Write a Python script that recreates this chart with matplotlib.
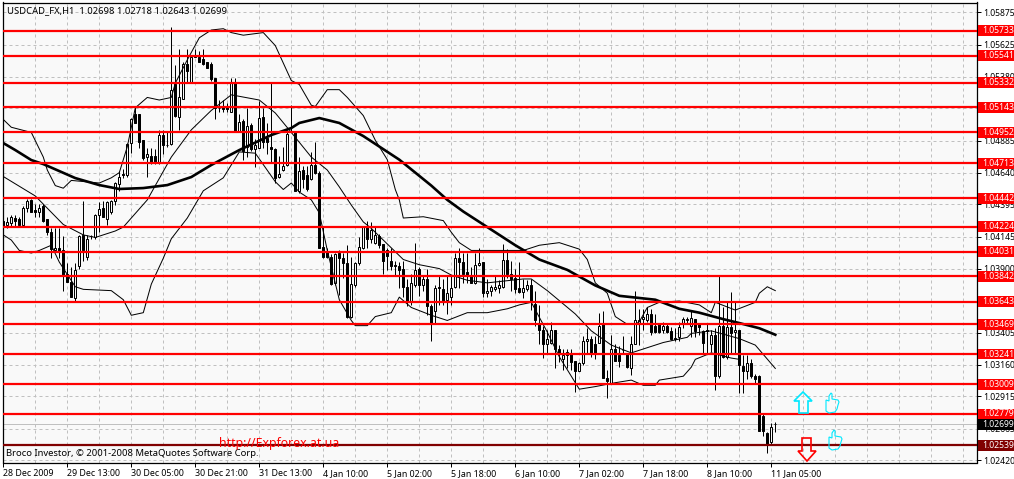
import matplotlib
matplotlib.use("Agg")
import matplotlib.pyplot as plt
from matplotlib.patches import Polygon, Rectangle
from matplotlib.transforms import Affine2D

W, H = 1014, 479

opens = [
 1.0427,1.0424,1.0425,1.0429,1.0428,1.0424,1.0437,1.0443,1.0435,1.0434,
 1.0438,1.0428,1.0418,1.0404,1.0406,1.0404,1.0386,1.0380,1.0367,1.0392,
 1.0416,1.0399,1.0415,1.0414,1.0431,1.0437,1.0428,1.0434,1.0442,1.0455,
 1.0463,1.0462,1.0487,1.0509,1.0509,1.0489,1.0476,1.0477,1.0477,1.0472,
 1.0493,1.0485,1.0486,1.0532,1.0507,1.0521,1.0548,1.0534,1.0554,1.0553,
 1.0552,1.0549,1.0548,1.0537,1.0514,1.0515,1.0515,1.0511,1.0534,1.0496,
 1.0504,1.0484,1.0501,1.0482,1.0483,1.0507,1.0491,1.0484,1.0482,1.0461,
 1.0466,1.0470,1.0495,1.0495,1.0450,1.0466,1.0462,1.0459,1.0470,1.0464,
 1.0407,1.0403,1.0399,1.0379,1.0402,1.0398,1.0394,1.0353,1.0377,1.0394,
 1.0406,1.0422,1.0413,1.0410,1.0415,1.0409,1.0404,1.0396,1.0393,1.0392,
 1.0390,1.0376,1.0364,1.0377,1.0390,1.0377,1.0382,1.0361,1.0357,1.0376,
 1.0374,1.0366,1.0368,1.0376,1.0398,1.0395,1.0387,1.0384,1.0379,1.0393,
 1.0395,1.0371,1.0373,1.0374,1.0375,1.0376,1.0397,1.0386,1.0383,1.0375,
 1.0372,1.0374,1.0377,1.0363,1.0347,1.0343,1.0332,1.0333,1.0343,1.0328,
 1.0320,1.0326,1.0324,1.0319,1.0311,1.0317,1.0334,1.0336,1.0332,1.0333,
 1.0347,1.0306,1.0302,1.0328,1.0323,1.0327,1.0325,1.0313,1.0332,1.0348,
 1.0351,1.0350,1.0355,1.0346,1.0347,1.0343,1.0346,1.0342,1.0336,1.0337,
 1.0348,1.0350,1.0346,1.0351,1.0347,1.0342,1.0343,1.0332,1.0339,1.0307,
 1.0346,1.0322,1.0345,1.0341,1.0343,1.0315,1.0311,1.0317,1.0307,1.0307,
 1.0276,1.0263,1.0256,1.02698]
closes = [
 1.0422,1.0426,1.0430,1.0427,1.0424,1.0437,1.0442,1.0434,1.0434,1.0437,
 1.0427,1.0418,1.0405,1.0406,1.0403,1.0385,1.0380,1.0368,1.0389,1.0415,
 1.0404,1.0413,1.0415,1.0431,1.0436,1.0430,1.0441,1.0442,1.0456,1.0461,
 1.0462,1.0486,1.0505,1.0502,1.0488,1.0475,1.0478,1.0472,1.0472,1.0493,
 1.0485,1.0485,1.0528,1.0508,1.0522,1.0548,1.0542,1.0553,1.0553,1.0549,
 1.0548,1.0545,1.0536,1.0514,1.0514,1.0513,1.0513,1.0534,1.0496,1.0503,
 1.0481,1.0500,1.0482,1.0485,1.0506,1.0488,1.0488,1.0482,1.0460,1.0463,
 1.0469,1.0494,1.0495,1.0450,1.0465,1.0459,1.0451,1.0470,1.0464,1.0406,
 1.0399,1.0399,1.0378,1.0401,1.0398,1.0394,1.0353,1.0378,1.0394,1.0407,
 1.0422,1.0413,1.0420,1.0416,1.0408,1.0396,1.0400,1.0392,1.0392,1.0389,
 1.0376,1.0364,1.0379,1.0389,1.0377,1.0382,1.0361,1.0347,1.0375,1.0375,
 1.0364,1.0371,1.0375,1.0398,1.0395,1.0386,1.0384,1.0379,1.0393,1.0394,
 1.0371,1.0373,1.0376,1.0376,1.0377,1.0397,1.0386,1.0382,1.0374,1.0372,
 1.0375,1.0377,1.0365,1.0350,1.0343,1.0332,1.0336,1.0343,1.0328,1.0324,
 1.0323,1.0323,1.0318,1.0311,1.0317,1.0334,1.0336,1.0324,1.0324,1.0346,
 1.0306,1.0303,1.0328,1.0319,1.0319,1.0327,1.0314,1.0332,1.0350,1.0350,
 1.0353,1.0355,1.0341,1.0341,1.0341,1.0346,1.0341,1.0336,1.0336,1.0345,
 1.0351,1.0351,1.0352,1.0342,1.0345,1.0333,1.0342,1.0339,1.0307,1.0346,
 1.0322,1.0345,1.0340,1.0343,1.0316,1.0311,1.0317,1.0307,1.0305,1.0265,
 1.0265,1.0255,1.0268,1.02699]
highs = [
 1.0431,1.0430,1.0431,1.0431,1.0430,1.0438,1.0444,1.0444,1.0440,1.0440,
 1.0440,1.0428,1.0421,1.0421,1.0421,1.0415,1.0394,1.0391,1.0394,1.0416,
 1.0442,1.0416,1.0416,1.0432,1.0441,1.0442,1.0442,1.0443,1.0457,1.0465,
 1.0467,1.0487,1.0506,1.0515,1.0509,1.0489,1.0483,1.0483,1.0482,1.0497,
 1.0497,1.0495,1.0576,1.0547,1.0559,1.0549,1.0559,1.0554,1.0559,1.0558,
 1.0559,1.0549,1.0549,1.0537,1.0520,1.0520,1.0518,1.0537,1.0537,1.0509,
 1.0505,1.0514,1.0502,1.0490,1.0519,1.0514,1.0502,1.0533,1.0483,1.0477,
 1.0484,1.0498,1.0516,1.0495,1.0476,1.0469,1.0469,1.0480,1.0488,1.0465,
 1.0422,1.0406,1.0401,1.0402,1.0404,1.0402,1.0408,1.0399,1.0395,1.0414,
 1.0423,1.0427,1.0426,1.0422,1.0417,1.0409,1.0406,1.0406,1.0396,1.0395,
 1.0396,1.0382,1.0386,1.0410,1.0391,1.0384,1.0390,1.0363,1.0377,1.0384,
 1.0382,1.0384,1.0384,1.0402,1.0406,1.0402,1.0402,1.0391,1.0402,1.0406,
 1.0395,1.0382,1.0377,1.0384,1.0381,1.0409,1.0405,1.0396,1.0390,1.0395,
 1.0382,1.0381,1.0382,1.0373,1.0362,1.0346,1.0343,1.0349,1.0343,1.0331,
 1.0328,1.0328,1.0328,1.0319,1.0318,1.0338,1.0344,1.0338,1.0338,1.0356,
 1.0357,1.0312,1.0339,1.0332,1.0330,1.0338,1.0325,1.0338,1.0373,1.0359,
 1.0359,1.0360,1.0359,1.0355,1.0348,1.0349,1.0347,1.0345,1.0344,1.0349,
 1.0353,1.0353,1.0358,1.0351,1.0348,1.0343,1.0348,1.0343,1.0344,1.0384,
 1.0360,1.0364,1.0372,1.0364,1.0343,1.0323,1.0323,1.0320,1.0309,1.0308,
 1.0279,1.0264,1.0271,1.02718]
lows = [
 1.0418,1.0421,1.0422,1.0423,1.0422,1.0424,1.0434,1.0434,1.0430,1.0430,
 1.0426,1.0416,1.0398,1.0404,1.0398,1.0373,1.0380,1.0368,1.0365,1.0390,
 1.0396,1.0397,1.0413,1.0413,1.0418,1.0430,1.0424,1.0432,1.0439,1.0450,
 1.0460,1.0461,1.0479,1.0502,1.0483,1.0474,1.0461,1.0471,1.0471,1.0471,
 1.0478,1.0484,1.0485,1.0507,1.0497,1.0521,1.0533,1.0533,1.0553,1.0549,
 1.0547,1.0545,1.0535,1.0505,1.0511,1.0511,1.0511,1.0511,1.0495,1.0495,
 1.0474,1.0476,1.0481,1.0468,1.0483,1.0483,1.0478,1.0472,1.0456,1.0460,
 1.0465,1.0469,1.0495,1.0450,1.0448,1.0452,1.0450,1.0458,1.0463,1.0406,
 1.0398,1.0398,1.0377,1.0377,1.0370,1.0383,1.0352,1.0352,1.0376,1.0393,
 1.0405,1.0406,1.0410,1.0409,1.0406,1.0386,1.0389,1.0389,1.0384,1.0375,
 1.0368,1.0361,1.0362,1.0376,1.0369,1.0373,1.0354,1.0334,1.0347,1.0362,
 1.0362,1.0355,1.0362,1.0375,1.0375,1.0379,1.0379,1.0379,1.0378,1.0392,
 1.0368,1.0368,1.0369,1.0373,1.0371,1.0375,1.0383,1.0373,1.0371,1.0371,
 1.0367,1.0373,1.0358,1.0346,1.0332,1.0321,1.0324,1.0332,1.0313,1.0318,
 1.0312,1.0313,1.0312,1.0295,1.0311,1.0316,1.0324,1.0322,1.0320,1.0333,
 1.0306,1.0290,1.0301,1.0319,1.0314,1.0325,1.0313,1.0308,1.0332,1.0331,
 1.0343,1.0349,1.0339,1.0340,1.0340,1.0340,1.0340,1.0335,1.0334,1.0334,
 1.0344,1.0347,1.0337,1.0337,1.0339,1.0324,1.0324,1.0326,1.0296,1.0306,
 1.0321,1.0320,1.0325,1.0325,1.0294,1.0294,1.0305,1.0306,1.0301,1.0265,
 1.0261,1.0248,1.0255,1.02643]
assert len(opens) == len(closes) == len(highs) == len(lows) == 194

upper_bars = [0,2,7,10,11,13,15,17,24,27,29,31,32,33,36,39,42,43,46,49,52,55,57,60,65,68,72,74,77,78,81,84,86,90,93,96,98,99,100,105,110,112,114,117,125,130,134,139,144,146,148,151,153,156,158,159,161,164,169,174,177,178,183,188,189,191,193]
upper_vals = [1.0505,1.0499,1.0495,1.0476,1.0466,1.0454,1.0452,1.0458,1.0456,1.0460,1.0464,1.0484,1.0499,1.0514,1.0522,1.0520,1.0522,1.0533,1.0551,1.0568,1.0574,1.0575,1.0572,1.0570,1.0572,1.0562,1.0535,1.0532,1.0516,1.0515,1.0528,1.0528,1.0522,1.0508,1.0489,1.0474,1.0451,1.0443,1.0429,1.0430,1.0427,1.0418,1.0410,1.0404,1.0404,1.0404,1.0408,1.0410,1.0405,1.0397,1.0379,1.0371,1.0353,1.0347,1.0347,1.0349,1.0360,1.0364,1.0365,1.0362,1.0356,1.0364,1.0358,1.0364,1.0371,1.0376,1.0373]

middle_bars = [0,8,15,20,23,28,30,36,42,47,52,57,64,68,72,77,81,84,87,90,92,97,100,104,109,112,116,121,130,132,136,143,147,152,157,159,165,171,172,177,184,188,193]
middle_vals = [1.0461,1.0446,1.0424,1.0416,1.0414,1.0419,1.0422,1.0443,1.0476,1.0497,1.0512,1.0524,1.0520,1.0510,1.0495,1.0476,1.0466,1.0453,1.0439,1.0426,1.0421,1.0406,1.0397,1.0393,1.0390,1.0385,1.0381,1.0379,1.0382,1.0382,1.0373,1.0355,1.0342,1.0331,1.0325,1.0327,1.0333,1.0337,1.0340,1.0342,1.0336,1.0331,1.0313]

lower_bars = [0,2,4,7,9,12,14,18,20,27,30,32,35,37,40,42,46,50,55,59,63,68,70,72,74,77,79,81,84,87,88,91,93,97,99,102,107,111,116,121,126,129,132,136,139,143,144,148,153,157,160,163,164,170,172,173,177,182,184]
lower_vals = [1.0416,1.0412,1.0404,1.0402,1.0404,1.0408,1.0395,1.0376,1.0374,1.0373,1.0366,1.0354,1.0356,1.0378,1.0398,1.0413,1.0429,1.0450,1.0460,1.0480,1.0479,1.0457,1.0451,1.0456,1.0449,1.0443,1.0433,1.0404,1.0366,1.0350,1.0346,1.0346,1.0353,1.0356,1.0368,1.0360,1.0354,1.0350,1.0356,1.0356,1.0359,1.0362,1.0364,1.0341,1.0322,1.0302,1.0297,1.0299,1.0302,1.0304,1.0300,1.0300,1.0304,1.0307,1.0314,1.0320,1.0325,1.0321,1.0320]

ma_bars = [0,3,7,10,14,18,24,29,35,41,47,52,59,67,72,74,79,84,90,99,107,111,115,120,128,134,141,148,154,163,169,174,180,184,189,193]
ma_vals = [1.04868,1.04814,1.04737,1.04706,1.04652,1.04598,1.04544,1.04514,1.04521,1.04544,1.04606,1.04699,1.04814,1.04930,1.04984,1.05023,1.05061,1.05023,1.04922,1.04740,1.04540,1.04430,1.04340,1.04240,1.04080,1.03970,1.03890,1.03770,1.03690,1.03660,1.03590,1.03560,1.03510,1.03480,1.03440,1.03390]

level_prices = [1.05733,1.05541,1.05332,1.05143,1.04952,1.04713,1.04442,1.04224,1.04031,1.03842,1.03643,1.03469,1.03241,1.03009,1.02779]
support_price = 1.02539
current_price = 1.02699

y_ticks = [1.05875,1.05625,1.05380,1.05135,1.04885,1.04640,1.04395,1.04145,1.03900,1.03650,1.03405,1.03160,1.02915,1.02665,1.02420]
x_tick_bars = [0,16,32,48,64,80,96,112,128,144,160,176,192]
x_tick_labels = ["28 Dec 2009","29 Dec 13:00","30 Dec 05:00","30 Dec 21:00","31 Dec 13:00","4 Jan 10:00","5 Jan 02:00","5 Jan 18:00","6 Jan 10:00","7 Jan 02:00","7 Jan 18:00","8 Jan 10:00","11 Jan 05:00"]

title = "USDCAD_FX,H1  1.02698 1.02718 1.02643 1.02699"
footer = "Broco Investor, © 2001-2008 MetaQuotes Software Corp."
site = "http://Expforex.at.ua"

FONT = "Noto Sans"
FS_AXIS = 6.2
FS_X = 6.4
FS_TEXT = 6.8
plt.rcParams["font.family"] = FONT

fig = plt.figure(figsize=(W / 100, H / 100), dpi=100, facecolor="white")
L, R, T, B = 2.5, 976.5, 2.5, 462.5
ax = fig.add_axes([L / W, 1 - B / H, (R - L) / W, (B - T) / H], facecolor="#f9f9f9")
ax.set_xlim((L - 3.3) / 4, (R - 3.3) / 4)
ax.set_ylim(1.0242 - 2 * 7.712e-5, 1.0242 + 458 * 7.712e-5)

for s in ax.spines.values():
    s.set_linewidth(0.9)
    s.set_color("black")

# grid
ax.set_axisbelow(True)
for b in range(8, 244, 8):
    ax.axvline(b, color="#c0c0c0", lw=0.72, ls=(0, (3, 3)), zorder=1)
for t in y_ticks:
    ax.axhline(t, color="#c0c0c0", lw=0.72, ls=(0, (3, 3)), zorder=1)
ax.axhline(current_price, color="#c0c0c0", lw=0.72, zorder=1.5)

# candles
bars = range(len(opens))
ax.vlines(bars, lows, highs, color="black", lw=0.72, zorder=3)
for i in bars:
    lo, hi = min(opens[i], closes[i]), max(opens[i], closes[i])
    up = closes[i] >= opens[i]
    ax.bar(i, max(hi - lo, 1e-5), bottom=lo, width=0.55,
           facecolor="#f9f9f9" if up else "black", edgecolor="black", lw=0.72, zorder=4)

# Bollinger bands and moving average
ax.plot(upper_bars, upper_vals, color="black", lw=0.72, zorder=5)
ax.plot(middle_bars, middle_vals, color="black", lw=0.72, zorder=5)
ax.plot(lower_bars, lower_vals, color="black", lw=0.72, zorder=5)
ax.plot(ma_bars, ma_vals, color="black", lw=1.9, zorder=6)

# levels
for p in level_prices:
    ax.axhline(p, color="#ff0000", lw=1.6, zorder=7)
ax.axhline(support_price, color="#800000", lw=1.6, zorder=7)

# axes ticks
ax.yaxis.tick_right()
ax.set_yticks(y_ticks)
ax.set_yticklabels([f"{t:.5f}" for t in y_ticks], fontsize=FS_AXIS, color="black")
ax.tick_params(axis="y", length=3, width=0.72, pad=2, direction="out")
ax.set_xticks(x_tick_bars)
ax.set_xticklabels(x_tick_labels, fontsize=FS_X, ha="left", color="black")
ax.tick_params(axis="x", length=3, width=0.72, pad=2, direction="out")

# price tags
tag_tf = ax.get_yaxis_transform()
def tag(price, face, z=10):
    ax.add_patch(Rectangle((1.0015, price - 0.00042), 0.04, 0.00084, transform=tag_tf,
                           facecolor=face, edgecolor="none", clip_on=False, zorder=z))
    ax.text(1.0057, price, f"{price:.5f}", transform=tag_tf, color="white", fontsize=FS_AXIS,
            va="center", ha="left", clip_on=False, zorder=z + 1)
for p in level_prices:
    tag(p, "#ff0000")
tag(current_price, "black")
tag(support_price, "#800000")

# text on the chart
px = Affine2D().scale(1, -1).translate(0, H)
ax.text(7, 10.5, title, transform=px, fontsize=FS_TEXT, va="center", ha="left", zorder=12)
ax.text(6.5, 453, footer, transform=px, fontsize=FS_TEXT, va="center", ha="left", zorder=12)
ax.text(219, 444, site, transform=px, fontsize=8.85, va="center", ha="left", color="#ff0000", zorder=12)

# arrows and hands
def icon(points, color, lw=1.2):
    ax.add_patch(Polygon(points, closed=True, transform=px, facecolor="none",
                         edgecolor=color, lw=lw, zorder=12, clip_on=False))
icon([(803,392),(812,401),(808,401),(808,413),(799,413),(799,401),(794,401)], "#00e8ff")
icon([(802,438),(811,438),(811,451),(816,451),(807,461),(798,451),(802,451)], "#ff0000")
thumb = [(0,7),(3,8),(3,3),(5,0),(6,1),(6,6),(12,7),(13,9),(12,12),(11,16),(9,19),(3,20),(0,18)]
icon([(826 + a, 393 + b) for a, b in thumb], "#00e8ff", 0.8)
icon([(829 + a, 430 + b) for a, b in thumb], "#00e8ff", 0.8)

fig.savefig("out.png", dpi=100, facecolor="white")
